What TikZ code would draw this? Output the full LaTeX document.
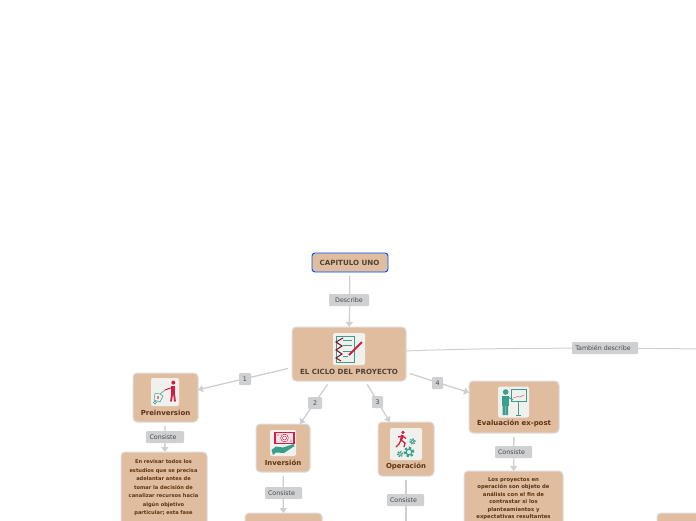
\documentclass[tikz,border=0pt]{standalone}
\usepackage{fontspec}
\setmainfont{DejaVu Sans}
\usetikzlibrary{arrows.meta}
\definecolor{boxfill}{HTML}{E0BD9F}
\definecolor{boxedge}{HTML}{DEDEDE}
\definecolor{linegrey}{HTML}{CFCFCF}
\definecolor{lblfill}{HTML}{CFD0D2}
\definecolor{lbltext}{HTML}{4A4A4A}
\definecolor{bodytext}{HTML}{5C3310}
\definecolor{icteal}{HTML}{3A9E8C}
\definecolor{icred}{HTML}{D01F45}
\definecolor{tile}{HTML}{F0F1EC}
\tikzset{
  topicbox/.style={draw=boxedge,line width=1pt,fill=boxfill,rounded corners=4pt,inner sep=0pt,outer sep=0pt},
  rootbox/.style={topicbox,draw=black!0!blue!70!cyan,line width=.9pt,rounded corners=3pt},
  title/.style={font=\fontsize{6.95}{8}\selectfont\bfseries,text=bodytext,inner sep=0pt},
  graytitle/.style={title,font=\fontsize{7.1}{8}\selectfont\bfseries,text=black!65!boxfill},
  body/.style={font=\fontsize{5.1}{8.5}\selectfont\bfseries,text=bodytext,align=center,inner sep=0pt,anchor=north},
  conn/.style={draw=linegrey,line width=1.3pt},
  arrowed/.style={conn,-{Triangle[width=7pt,length=5pt]}},
  edgelabel/.style={fill=lblfill,rounded corners=1pt,text=lbltext,font=\fontsize{6.3}{7}\selectfont,inner sep=0pt,minimum height=12pt},
  icontile/.style={fill=tile,rounded corners=2pt,inner sep=0pt,minimum size=#1},
  tealline/.style={draw=icteal,line width=.8pt},
  redline/.style={draw=icred,line width=.9pt},
}
\newcommand{\cog}[3]{%
  \draw[icteal,line width=#3*.45pt,dash pattern=on #3*.55pt off #3*.45pt] (#1) circle[radius=#3*1pt];
  \draw[icteal,line width=#3*.25pt] (#1) circle[radius=#3*.65pt];}
\begin{document}
\begin{tikzpicture}[x=1pt,y=-1pt]
\useasboundingbox (0,0) rectangle (696,520);
\clip (0,0) rectangle (696,520);
% boxes
\node[rootbox,minimum width=76pt,minimum height=19pt] (root) at (350,262.5) {};
\node[graytitle] (roott) at (349.5,262.5) {CAPITULO UNO};
\node[topicbox,minimum width=114pt,minimum height=54pt] (main) at (349,354) {};
\node[graytitle] (maint) at (349,371.5) {EL CICLO DEL PROYECTO};
\node[topicbox,minimum width=65pt,minimum height=49pt] (pre) at (165.5,397.5) {};
\node[title] (pret) at (165.5,412.5) {Preinversion};
\node[topicbox,minimum width=54pt,minimum height=48pt] (inv) at (283,448) {};
\node[title] (invt) at (283,462.5) {Inversión};
\node[topicbox,minimum width=56pt,minimum height=54pt] (ope) at (406,449) {};
\node[title] (opet) at (406,466.5) {Operación};
\node[topicbox,minimum width=90pt,minimum height=52pt] (eva) at (514,407) {};
\node[title] (evat) at (514,423.5) {Evaluación ex-post};
\node[topicbox,minimum width=86pt,minimum height=120pt] (prebody) at (164,512) {};
\node[body] (pretext) at (163.5,459.7) {En revisar todos los\\estudios que se precisa\\adelantar antes de\\tomar la decisión de\\canalizar recursos hacia\\algún objetivo\\particular; esta fase};
\node[topicbox,minimum width=77pt,minimum height=60pt] (invbody) at (283.5,543) {};
\node[topicbox,minimum width=99pt,minimum height=100pt] (evabody) at (513.5,521) {};
\node[body,font=\fontsize{5.3}{7.5}\selectfont\bfseries] (evatext) at (513.5,477) {Los proyectos en\\operación son objeto de\\análisis con el fin de\\contrastar si los\\planteamientos y\\expectativas resultantes};
\node[topicbox,minimum width=80pt,minimum height=60pt] (farbody) at (697,543) {};
\coordinate (offright) at (700,349);
\coordinate (opedown) at (406,530);
% connectors
\draw[arrowed,shorten <=4pt] (root) -- (main);
\draw[arrowed,shorten <=4pt] (main) -- (pre);
\draw[arrowed,shorten <=4pt] (main) -- (inv);
\draw[arrowed,shorten <=4pt] (main) -- (ope);
\draw[arrowed,shorten <=4pt] (main) -- (eva);
\draw[conn,line width=1pt] ([yshift=3pt]main.east) .. controls (480,348) and (590,347.5) .. (offright);
\draw[arrowed,shorten <=4pt] (pre) -- (prebody);
\draw[arrowed,shorten <=4pt] (inv) -- (invbody);
\draw[conn,shorten <=4pt] (ope) -- (opedown);
\draw[arrowed,shorten <=4pt] (eva) -- (evabody);
% connector labels
\node[edgelabel,minimum width=40pt] (l0) at (349,300) {Describe};
\node[edgelabel,minimum width=12pt] (l1) at (245,379) {1};
\node[edgelabel,minimum width=14pt] (l2) at (315,403) {2};
\node[edgelabel,minimum width=11pt] (l3) at (377.5,402) {3};
\node[edgelabel,minimum width=11pt] (l4) at (437.5,383) {4};
\node[edgelabel,minimum width=66pt] (l5) at (605,348) {También describe\kern4pt};
\node[edgelabel,minimum width=38pt] (l6) at (165,437) {Consiste\kern4pt};
\node[edgelabel,minimum width=37pt] (l7) at (283.5,493) {Consiste\kern4pt};
\node[edgelabel,minimum width=37pt] (l8) at (405.5,500) {Consiste\kern4pt};
\node[edgelabel,minimum width=37pt] (l9) at (513.5,452) {Consiste\kern4pt};
% icon: main
\node[icontile=32pt] (ic0) at (349,349) {};
\draw[tealline] (336.5,336) rectangle (354,362);
\foreach \yy in {340,345,351} \draw[tealline] (343,\yy) -- (352,\yy);
\draw[tealline] (343,356) -- (348,356);
\draw[draw=icred!60!black,line width=1pt] (343,338) -- (336,342) -- (342,346) -- (336,350) -- (342,354) -- (336,358) -- (341,361);
\draw[icred,line width=2pt] (349,355) -- (362,342);
% icon: preinversion
\node[icontile=28pt] (ic1) at (165,392) {};
\fill[icred] (173.3,382.6) circle[radius=2];
\draw[icred,line width=3.6pt] (173,386) -- (173,395);
\draw[icred,line width=1.8pt] (172,395) -- (171,401.5) (174.2,395) -- (175,401.5);
\draw[icred,line width=1pt] (172,387.5) -- (165,390);
\draw[tealline,line width=.5pt] (165,390) -- (160,394) -- (155,393) -- (154,400) -- (160,402) -- (163,396) -- (160,394);
\draw[tealline,line width=.5pt] (155,402.5) circle[radius=1.5];
\fill[icred!60] (157,396) rectangle (159,399);
% icon: inversion
\node[icontile=26pt] (ic2) at (283,443) {};
\draw[icred,line width=1.1pt,fill=icred!15] (275,432.5) rectangle (294,443.5);
\draw[icred,line width=.5pt,fill=white] (284.5,438) circle[radius=3.8];
\draw[icred,line width=.5pt] (284.5,438) circle[radius=2];
\fill[icred] (278,435) circle[radius=.6] (291,441) circle[radius=.6];
\fill[icteal] (271.5,450) -- (276,446.5) -- (283,447.5) -- (293.5,444) -- (294.5,446) -- (284,453) -- (276,452.5) -- (273,455) -- cycle;
% icon: operacion
\node[icontile=32pt] (ic3) at (406,444) {};
\fill[icred] (403,432.3) circle[radius=1.8];
\draw[icred,line width=2.4pt] (402.5,435) -- (401,440);
\draw[icred,line width=1.3pt] (401,440) -- (405,443) -- (404,447) (401,440) -- (399,444) -- (396,447) (402.5,436) -- (406,438.5) (402.5,436) -- (398,437);
\cog{412.5,441.5}{2.6}{2.6}
\cog{409,452}{4.4}{4.4}
\cog{400,454}{2.6}{2.6}
% icon: evaluacion
\node[icontile=31pt] (ic4) at (513.5,402) {};
\fill[icteal] (505.7,392) circle[radius=2.8];
\fill[icteal] (501.5,396) rectangle (508.5,406);
\fill[icteal] (502.5,406) rectangle (505,415) (505.5,406) rectangle (508,415);
\draw[icteal,line width=1pt] (508,397) -- (513,400);
\draw[tealline,line width=.7pt] (511,389.5) rectangle (526,401.5);
\draw[tealline,line width=1.2pt] (511,389.5) -- (526,389.5);
\draw[icred!70,line width=.5pt] (513,398) -- (518,396.5) -- (520,397) -- (524,395);
\draw[tealline,line width=.6pt] (518.5,401.5) -- (518.5,415) (516,415) -- (521,415);
\end{tikzpicture}
\end{document}
